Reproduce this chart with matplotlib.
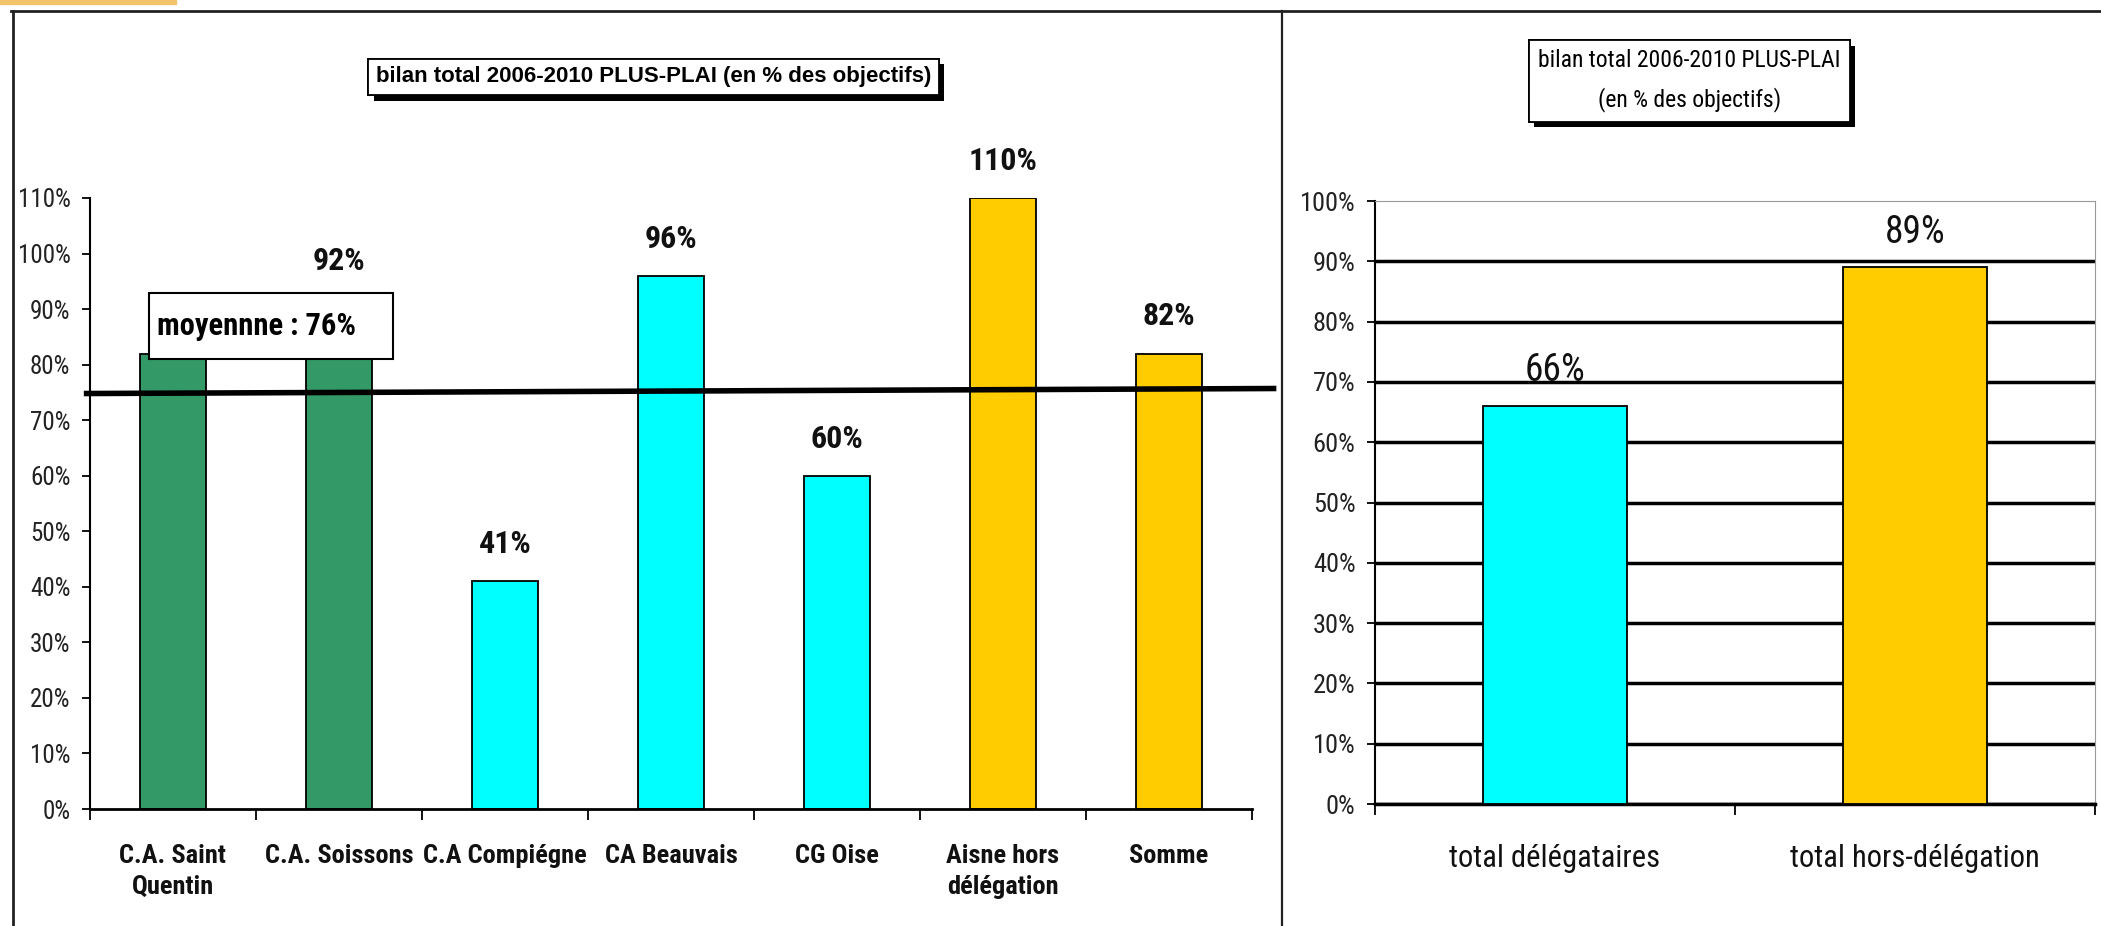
import numpy as np
import matplotlib
matplotlib.use('Agg')
import matplotlib.pyplot as plt
import matplotlib.patheffects as pe
import matplotlib.font_manager as fm
from matplotlib.lines import Line2D
from matplotlib.patches import Rectangle

# look for a narrow / condensed face (the chart uses Arial Narrow)
names = {f.name for f in fm.fontManager.ttflist}
cond = sorted({f.name for f in fm.fontManager.ttflist if f.stretch in ('condensed', 'semi-condensed')
               or 'Narrow' in f.name or 'Condensed' in f.name})
narrow = None
for cand in ['Liberation Sans Narrow', 'Arial Narrow', 'Roboto Condensed', 'DejaVu Sans Condensed',
             'Open Sans Condensed', 'Noto Sans Condensed']:
    if cand in names:
        narrow = cand
        break
if narrow is None and cond:
    narrow = cond[0]
k = 1.0 if narrow else 0.84
fam = [narrow, 'Liberation Sans', 'DejaVu Sans'] if narrow else ['Liberation Sans', 'DejaVu Sans']
plt.rcParams['font.family'] = fam
plt.rcParams['font.stretch'] = 'condensed'
wide = ['Liberation Sans', 'DejaVu Sans']

# data - left chart
categories = ['C.A. Saint\nQuentin', 'C.A. Soissons', 'C.A Compiégne', 'CA Beauvais',
              'CG Oise', 'Aisne hors\ndélégation', 'Somme']
values = [0.82, 0.92, 0.41, 0.96, 0.60, 1.10, 0.82]
colors = ['#339966', '#339966', '#00FFFF', '#00FFFF', '#00FFFF', '#FFCC00', '#FFCC00']
mean_label = 'moyennne : 76%'
mean_line = [0.748, 0.757]   # the drawn line sits a bit under 76%

# data - right chart
categories2 = ['total délégataires', 'total hors-délégation']
values2 = [0.66, 0.89]
colors2 = ['#00FFFF', '#FFCC00']

title = 'bilan total 2006-2010 PLUS-PLAI (en % des objectifs)'
title2 = 'bilan total 2006-2010 PLUS-PLAI\n(en % des objectifs)'

fig = plt.figure(figsize=(21.01, 9.26), dpi=100)
fig.patch.set_facecolor('white')

# panel frames and little orange strip
fig.add_artist(Line2D([0.005, 1.0], [0.988, 0.988], color='#222', lw=2))
fig.add_artist(Line2D([0.006, 0.006], [0.0, 0.988], color='#222', lw=2))
fig.add_artist(Line2D([0.610, 0.610], [0.0, 0.988], color='#222', lw=1.6))
fig.add_artist(Rectangle((0, 0.996), 0.084, 0.004, color='#F2C36B', transform=fig.transFigure))


def pct(ax):
    ax.yaxis.set_major_formatter(matplotlib.ticker.FuncFormatter(lambda v, p: '%d%%' % round(v * 100)))


# ---------- left chart
ax = fig.add_axes([0.0428, 0.1263, 0.5531, 0.6599])
x = np.arange(len(categories))
bars = ax.bar(x, values, width=0.4, color=colors, edgecolor='black', linewidth=1.3, zorder=2)
ax.set_xlim(-0.5, len(categories) - 0.5)
ax.set_ylim(0, 1.1)
ax.set_yticks(np.arange(0, 1.11, 0.1))
pct(ax)
ax.set_xticks(x)
ax.set_xticklabels(categories, fontsize=19 * k, fontweight='bold', color='#111', linespacing=1.4)
ax.set_xticks(np.arange(-0.5, len(categories), 1), minor=True)
ax.tick_params(axis='x', which='major', length=0, pad=25)
ax.tick_params(axis='x', which='minor', length=8, width=1.3)
ax.tick_params(axis='y', length=6, width=1.3, labelsize=18 * k, pad=8, labelcolor='#222')
for s in ['top', 'right']:
    ax.spines[s].set_visible(False)
ax.spines['left'].set_linewidth(1.5)
ax.spines['bottom'].set_linewidth(2)

for b, v in zip(bars, values):
    ax.annotate('%d%%' % round(v * 100), (b.get_x() + b.get_width() / 2, v),
                xytext=(0, 16), textcoords='offset points', ha='center', va='bottom',
                fontsize=23 * k, fontweight='bold', color='#111', annotation_clip=False, zorder=3)

ax.plot([-0.52, 6.63], mean_line, color='black', lw=4, zorder=4, clip_on=False)
# "moyenne" box drawn over the first two bars (hides the first value label)
ax.add_patch(Rectangle((0.0508, 0.736), 0.21, 0.109, transform=ax.transAxes, fc='white',
                       ec='black', lw=1.5, zorder=5, clip_on=False))
ax.text(0.0577, 0.79, mean_label, transform=ax.transAxes, fontsize=22 * k, fontweight='bold',
        ha='left', va='center', zorder=6)

t1 = fig.text(0.311, 0.917, title, ha='center', va='center', fontsize=16, fontweight='bold',
              family=wide,
              bbox=dict(boxstyle='square,pad=0.35', fc='white', ec='black', lw=1.3))
t1.get_bbox_patch().set_path_effects([pe.withSimplePatchShadow(offset=(4, -4), shadow_rgbFace='black', alpha=1),
                                      pe.Normal()])

# ---------- right chart
ax2 = fig.add_axes([0.6544, 0.1317, 0.3427, 0.6512])
x2 = np.arange(len(categories2))
bars2 = ax2.bar(x2, values2, width=0.4, color=colors2, edgecolor='black', linewidth=1.3, zorder=3)
ax2.set_xlim(-0.5, len(categories2) - 0.5)
ax2.set_ylim(0, 1.0)
ax2.set_yticks(np.arange(0, 1.01, 0.1))
pct(ax2)
ax2.set_xticks(x2)
ax2.set_xticklabels(categories2, fontsize=22 * k, color='#111')
ax2.set_xticks(np.arange(-0.5, len(categories2), 1), minor=True)
ax2.tick_params(axis='x', which='major', length=0, pad=29)
ax2.tick_params(axis='x', which='minor', length=8, width=1.3)
ax2.tick_params(axis='y', length=6, width=1.3, labelsize=19 * k, pad=8, labelcolor='#222')
ax2.yaxis.grid(True, color='black', lw=2.5, zorder=1)
ax2.set_axisbelow(True)
ax2.yaxis.get_gridlines()[-1].set_visible(False)
ax2.spines['top'].set_color('#999')
ax2.spines['right'].set_color('#999')
ax2.spines['left'].set_linewidth(1.5)
ax2.spines['bottom'].set_linewidth(2.5)

for b, v in zip(bars2, values2):
    ax2.annotate('%d%%' % round(v * 100), (b.get_x() + b.get_width() / 2, v),
                 xytext=(0, 12), textcoords='offset points', ha='center', va='bottom',
                 fontsize=27 * k, color='#111', annotation_clip=False, zorder=4)

t2 = fig.text(0.804, 0.913, title2, ha='center', va='center', fontsize=17 * k, linespacing=1.8,
              bbox=dict(boxstyle='square,pad=0.4', fc='white', ec='black', lw=1.3))
t2.get_bbox_patch().set_path_effects([pe.withSimplePatchShadow(offset=(4, -4), shadow_rgbFace='black', alpha=1),
                                      pe.Normal()])

fig.savefig('out.png', dpi=100)
